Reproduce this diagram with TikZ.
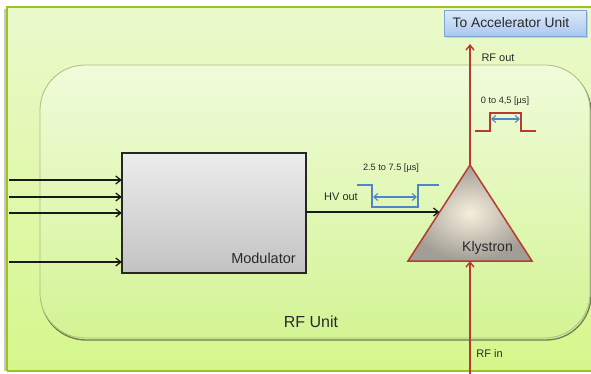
\documentclass[tikz,border=0pt]{standalone}
\usepackage{fontspec}
\setmainfont{Liberation Sans}
\usetikzlibrary{arrows.meta}
\definecolor{outerTop}{HTML}{EBF9CC}
\definecolor{outerBot}{HTML}{D6F78C}
\definecolor{outerBorder}{HTML}{9BC31C}
\definecolor{innerTop}{HTML}{F0FBDA}
\definecolor{innerBot}{HTML}{D3F494}
\definecolor{innerBorder}{HTML}{A9BE84}
\definecolor{modTop}{HTML}{EDEDED}
\definecolor{modBot}{HTML}{C2C2C2}
\definecolor{klyIn}{HTML}{F5EFDC}
\definecolor{klyOut}{HTML}{A29E95}
\definecolor{rfRed}{HTML}{B83A32}
\definecolor{pulseBlue}{HTML}{4F86C6}
\definecolor{boxTop}{HTML}{DDEAFA}
\definecolor{boxBot}{HTML}{A9C8EF}
\definecolor{boxBorder}{HTML}{7FA3D3}
\definecolor{txt}{HTML}{2A2A2A}
\tikzset{
  lbl/.style={text=txt, inner sep=0pt},
  sig/.style={black!90, line width=1.3pt, -{Straight Barb[length=5pt,width=8pt]}},
  rfline/.style={rfRed, line width=1.4pt, -{Straight Barb[length=5pt,width=8pt]}},
  pulse/.style={line width=1.3pt},
  dbl/.style={pulseBlue, line width=1.1pt, {Straight Barb[length=4pt,width=7pt]}-{Straight Barb[length=4pt,width=7pt]}},
}
\begin{document}
\begin{tikzpicture}[x=1pt,y=-1pt]
\useasboundingbox (0,0) rectangle (591,373);
\fill[white] (0,0) rectangle (591,373);
% outer frame
\fill[black!22] (4,9) rectangle (8,371);
\path[top color=outerTop, bottom color=outerBot] (7,7) rectangle (600,371);
\draw[outerBorder, line width=2pt] (7,371) -- (7,7) -- (600,7);
\draw[outerBorder, line width=2pt] (7,371) -- (600,371);
% inner RF unit
\draw[black!35!innerBorder, line width=1.3pt, rounded corners=45] (41,67) rectangle (591,340);
\path[draw=innerBorder, line width=0.8pt, top color=innerTop, bottom color=innerBot, rounded corners=45] (40,65) rectangle (590,338);
\node[lbl, font=\fontsize{16}{18}\selectfont] (rfunit) at (311,322) {RF Unit};
% modulator
\path[draw=black!85, line width=2pt, top color=modTop, bottom color=modBot] (122,153) rectangle (306,273);
\node[inner sep=0pt, minimum width=184pt, minimum height=120pt] (mod) at (214,213) {};
\node[lbl, font=\fontsize{14.5}{17}\selectfont] (modlbl) at (263.5,258) {Modulator};
% inputs
\foreach \yy/\nm in {180/a,197/b,213/c,262/d} {
  \coordinate (in\nm) at (9,\yy);
  \coordinate (to\nm) at (mod.west |- 0,\yy);
  \draw[sig] (in\nm) -- (to\nm);
}
% klystron
\coordinate (apex) at (470,165);
\coordinate (bl) at (408,261);
\coordinate (br) at (532,261);
\coordinate (basemid) at (470,261);
\coordinate (hvend) at (439.5,212);
\path[draw=rfRed, line width=1.5pt, line join=miter, inner color=klyIn, outer color=klyOut] (apex) -- (br) -- (bl) -- cycle;
\node[lbl, font=\fontsize{14}{16}\selectfont] (kly) at (487.5,248) {Klystron};
% HV out
\coordinate (modout) at (306,212);
\draw[sig] (modout) -- (hvend);
\node[lbl, font=\fontsize{11}{13}\selectfont] (hvlbl) at (341,197) {HV out};
% blue pulse
\draw[pulseBlue, pulse] (357,185) -- (372,185) -- (372,207) -- (418,207) -- (418,185) -- (439,185);
\coordinate (p1a) at (373,197);
\coordinate (p1b) at (417,197);
\draw[dbl] (p1a) -- (p1b);
\node[lbl, font=\fontsize{9.2}{11}\selectfont] (p1lbl) at (391,168) {2.5 to 7.5 [µs]};
% RF lines
\coordinate (rfbottom) at (470,375);
\coordinate (rftop) at (470,44);
\draw[rfline] (rfbottom) -- (basemid);
\draw[rfline] (apex) -- (rftop);
\node[lbl, font=\fontsize{11}{13}\selectfont] (rfin) at (489.5,354) {RF in};
\node[lbl, font=\fontsize{11}{13}\selectfont] (rfout) at (498,58) {RF out};
% red pulse
\draw[rfRed, pulse] (475,131) -- (490,131) -- (490,113) -- (521,113) -- (521,131) -- (536,131);
\coordinate (p2a) at (491,119);
\coordinate (p2b) at (520,119);
\draw[dbl] (p2a) -- (p2b);
\node[lbl, font=\fontsize{9.2}{11}\selectfont] (p2lbl) at (505,101) {0 to 4,5 [µs]};
% target box
\fill[black!20] (446,12) rectangle (588,38);
\path[draw=boxBorder, line width=0.8pt, top color=boxTop, bottom color=boxBot] (444,10) rectangle (586,36);
\node[lbl, font=\fontsize{13.8}{16}\selectfont] (acc) at (511,23) {To Accelerator Unit};
\end{tikzpicture}
\end{document}
